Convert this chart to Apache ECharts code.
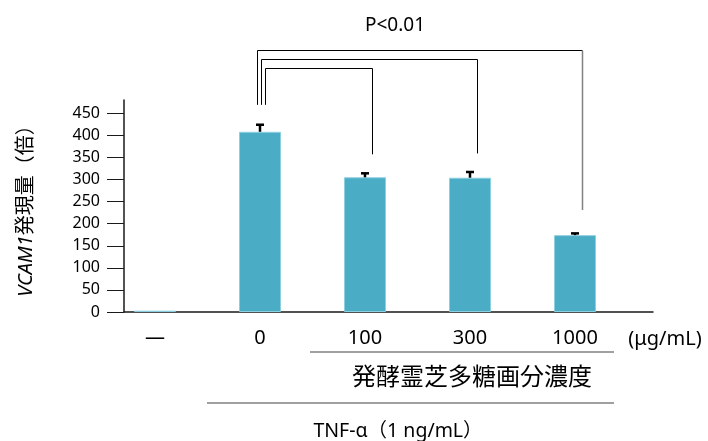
<!DOCTYPE html>
<html>
<head>
<meta charset="utf-8">
<script src="https://cdn.jsdelivr.net/npm/echarts@6/dist/echarts.min.js"></script>
<style>html,body{margin:0;padding:0;background:#fff}#c{width:708px;height:441px}</style>
</head>
<body>
<div id="c"></div>
<script>
// ---- data ----
const categories = ['—', '0', '100', '300', '1000'];
const means = [3, 408, 305, 304, 174];
const errors = [0, 16, 9, 13, 4];
const yTicks = [0, 50, 100, 150, 200, 250, 300, 350, 400, 450];
const yMax = 480;
// brackets: [leftCategoryIndex, rightCategoryIndex, topValue, leftEndValue, rightEndValue]
const brackets = [
  [1, 4, 593, 469, 231],
  [1, 3, 573, 469, 359],
  [1, 2, 553, 469, 357]
];
const pLabel = 'P<0.01';
const unitLabel = '(μg/mL)';
const groupLabel = '発酵霊芝多糖画分濃度';
const tnfLabel = 'TNF-α（1 ng/mL）';

const FONT = '"Noto Sans", "Noto Sans CJK JP", sans-serif';
const chart = echarts.init(document.getElementById('c'), null, {renderer: 'canvas'});

const bracketLeftOffsets = [-3.5, 1, 5];
const option = {
  animation: false,
  backgroundColor: '#fff',
  grid: [
    {left: 102.5, right: 80.5, top: 100, bottom: 129},
    {left: 124, right: 55, top: 100, bottom: 129}
  ],
  xAxis: [
    {
      type: 'category', gridIndex: 0, data: categories,
      axisLine: {show: false}, axisTick: {show: false},
      axisLabel: {color: '#000', fontFamily: FONT, fontSize: 20, margin: 16}
    },
    {
      type: 'value', gridIndex: 1, min: 0, max: 1,
      axisLine: {show: true, lineStyle: {color: '#1a1a1a', width: 1.5}},
      axisTick: {show: false}, axisLabel: {show: false}, splitLine: {show: false}
    }
  ],
  yAxis: [
    {
      type: 'value', gridIndex: 0, min: 0, max: yMax, offset: -21.5,
      axisLine: {show: true, lineStyle: {color: '#1a1a1a', width: 1.5}},
      axisTick: {show: true, length: 17, customValues: yTicks, lineStyle: {color: '#1a1a1a', width: 1}},
      axisLabel: {customValues: yTicks, color: '#000', fontFamily: FONT, fontSize: 16, margin: 24},
      splitLine: {show: false},
      name: '{i|VCAM1}{n|発現量（倍）}',
      nameLocation: 'middle', nameRotate: 90, nameGap: 88,
      nameTextStyle: {
        rich: {
          i: {fontStyle: 'italic', fontFamily: FONT, fontSize: 20, color: '#000'},
          n: {fontFamily: FONT, fontSize: 20, color: '#000'}
        }
      }
    },
    {
      type: 'value', gridIndex: 1, min: 0, max: 1, show: false
    }
  ],
  series: [
    {
      type: 'bar', xAxisIndex: 0, yAxisIndex: 0, data: means, barWidth: 42,
      itemStyle: {color: '#4BACC6', borderColor: '#8ccfdf', borderWidth: 1}
    },
    {
      type: 'custom', xAxisIndex: 0, yAxisIndex: 0, clip: false,
      data: means.map((m, i) => [i, m, errors[i]]),
      renderItem: function (params, api) {
        const i = api.value(0), m = api.value(1), e = api.value(2);
        if (!e) return;
        const p0 = api.coord([i, m]);
        const p1 = api.coord([i, m + e]);
        return {
          type: 'group', children: [
            {type: 'line', shape: {x1: p0[0], y1: p0[1], x2: p1[0], y2: p1[1]}, style: {stroke: '#000', lineWidth: 2.5}},
            {type: 'line', shape: {x1: p1[0] - 4, y1: p1[1], x2: p1[0] + 4, y2: p1[1]}, style: {stroke: '#000', lineWidth: 2.5}}
          ]
        };
      },
      z: 5
    },
    {
      type: 'custom', xAxisIndex: 0, yAxisIndex: 0, clip: false,
      data: brackets.map((b, k) => [b[0], b[1], b[2], b[3], b[4], k]),
      renderItem: function (params, api) {
        const l = api.value(0), r = api.value(1), t = api.value(2), le = api.value(3), re = api.value(4), k = api.value(5);
        const lt = api.coord([l, t]), lb = api.coord([l, le]);
        const rt = api.coord([r, t]), rb = api.coord([r, re]);
        const xl = Math.round(lt[0] + bracketLeftOffsets[k]) + 0.5;
        const xr = Math.round(rt[0] + 7) + 0.5;
        const yt = Math.round(lt[1]) + 0.5;
        const rightColor = k === 0 ? '#808080' : '#000';
        return {
          type: 'group', children: [
            {type: 'polyline', shape: {points: [[xl, lb[1]], [xl, yt], [xr, yt]]}, style: {stroke: '#000', lineWidth: 1, fill: null}},
            {type: 'line', shape: {x1: xr, y1: yt, x2: xr, y2: rb[1]}, style: {stroke: rightColor, lineWidth: k === 0 ? 1.5 : 1}}
          ]
        };
      },
      z: 5
    }
  ],
  graphic: [
    {type: 'text', style: {text: pLabel, x: 395, y: 26, align: 'center', verticalAlign: 'middle', font: '19px ' + FONT, fill: '#000'}},
    {type: 'text', style: {text: unitLabel, x: 665, y: 339, align: 'center', verticalAlign: 'middle', font: '20px ' + FONT, fill: '#000'}},
    {type: 'line', shape: {x1: 310, y1: 352, x2: 614, y2: 352}, style: {stroke: '#808080', lineWidth: 1.5}},
    {type: 'text', style: {text: groupLabel, x: 472, y: 378, align: 'center', verticalAlign: 'middle', font: '24px ' + FONT, fill: '#000'}},
    {type: 'line', shape: {x1: 207, y1: 403, x2: 614, y2: 403}, style: {stroke: '#808080', lineWidth: 1.5}},
    {type: 'text', style: {text: tnfLabel, x: 398, y: 431, align: 'center', verticalAlign: 'middle', font: '19.5px ' + FONT, fill: '#000'}}
  ]
};
chart.setOption(option);
</script>
</body>
</html>
